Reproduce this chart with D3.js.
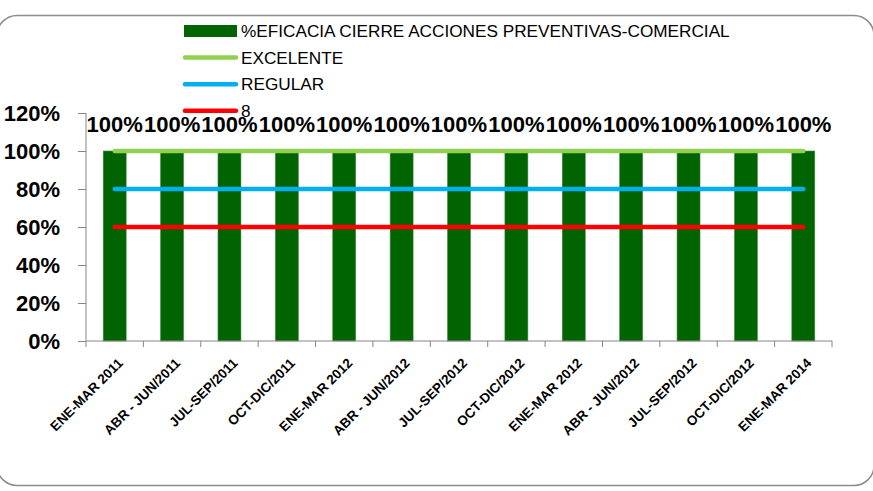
<!DOCTYPE html>
<html>
<head>
<meta charset="utf-8">
<title>%EFICACIA CIERRE ACCIONES PREVENTIVAS-COMERCIAL</title>
<script src="https://cdn.jsdelivr.net/npm/d3@7"></script>
<style>
body, html { margin: 0; padding: 0; background: #fff; }
svg { display: block; font-family: "Liberation Sans", Arial, sans-serif; }
.axis path, .axis line { stroke: #868686; }
</style>
</head>
<body>
<script>
// periods on the x axis
var periods = ['ENE-MAR 2011', 'ABR - JUN/2011', 'JUL-SEP/2011', 'OCT-DIC/2011',
  'ENE-MAR 2012', 'ABR - JUN/2012', 'JUL-SEP/2012', 'OCT-DIC/2012',
  'ENE-MAR 2012', 'ABR - JUN/2012', 'JUL-SEP/2012', 'OCT-DIC/2012', 'ENE-MAR 2014'];
var eficacia = [1, 1, 1, 1, 1, 1, 1, 1, 1, 1, 1, 1, 1];
var excelente = [1, 1, 1, 1, 1, 1, 1, 1, 1, 1, 1, 1, 1];
var regular = [0.8, 0.8, 0.8, 0.8, 0.8, 0.8, 0.8, 0.8, 0.8, 0.8, 0.8, 0.8, 0.8];
var malo = [0.6, 0.6, 0.6, 0.6, 0.6, 0.6, 0.6, 0.6, 0.6, 0.6, 0.6, 0.6, 0.6];
var yTicks = [0, 0.2, 0.4, 0.6, 0.8, 1, 1.2];
var seriesNames = ['%EFICACIA CIERRE ACCIONES PREVENTIVAS-COMERCIAL', 'EXCELENTE', 'REGULAR', '8'];

var width = 873, height = 491;
var margin = {left: 86, right: 40, top: 113, bottom: 150};

var svg = d3.select('body').append('svg')
  .attr('width', width)
  .attr('height', height);

// rounded chart border
svg.append('rect')
  .attr('x', -3).attr('y', 15.5)
  .attr('width', 877).attr('height', 470)
  .attr('rx', 20).attr('ry', 20)
  .attr('fill', 'none')
  .attr('stroke', '#8c8c8c')
  .attr('stroke-width', 1.5);

var x = d3.scaleBand()
  .domain(d3.range(periods.length))
  .range([margin.left, width - margin.right - 1])
  .paddingInner(0.6).paddingOuter(0.3);

var xOuter = d3.scaleBand()
  .domain(d3.range(periods.length))
  .range([margin.left, width - margin.right - 1]);

var y = d3.scaleLinear()
  .domain([0, 1.2])
  .range([height - margin.bottom, margin.top]);

// y axis
var yAxis = svg.append('g')
  .attr('class', 'axis')
  .attr('transform', 'translate(' + margin.left + ',0)')
  .call(d3.axisLeft(y).tickValues(yTicks).tickSize(8).tickFormat(d3.format('.0%')));
yAxis.select('.domain').attr('d', 'M-0,' + y(1.2) + 'V' + y(0));
yAxis.selectAll('text')
  .attr('x', -26)
  .attr('dy', '0.36em')
  .style('font-size', '22px')
  .style('font-weight', 'bold')
  .attr('fill', '#000');

// bars
svg.append('g').selectAll('rect')
  .data(eficacia)
  .join('rect')
  .attr('x', function(d, i) { return x(i); })
  .attr('y', function(d) { return y(d); })
  .attr('width', x.bandwidth())
  .attr('height', function(d) { return y(0) - y(d); })
  .attr('fill', '#006400')
  .attr('stroke', '#3f8a3f')
  .attr('stroke-width', 0.6);

// x axis
var xAxis = svg.append('g')
  .attr('class', 'axis')
  .attr('transform', 'translate(0,' + y(0) + ')');
xAxis.append('line')
  .attr('x1', margin.left).attr('x2', width - margin.right - 1)
  .attr('stroke', '#868686');
xAxis.selectAll('line.tick')
  .data(d3.range(periods.length + 1))
  .join('line')
  .attr('class', 'tick')
  .attr('x1', function(i) { return margin.left + i * xOuter.step(); })
  .attr('x2', function(i) { return margin.left + i * xOuter.step(); })
  .attr('y1', 0).attr('y2', 6)
  .attr('stroke', '#868686');
xAxis.selectAll('text')
  .data(periods)
  .join('text')
  .attr('transform', function(d, i) {
    return 'translate(' + (xOuter(i) + xOuter.bandwidth() / 2 + 9) + ',23) rotate(-45)';
  })
  .attr('text-anchor', 'end')
  .style('font-size', '13.5px')
  .style('font-weight', 'bold')
  .attr('fill', '#000')
  .text(function(d) { return d; });

// reference lines
var line = d3.line()
  .x(function(d, i) { return x(i) + x.bandwidth() / 2; })
  .y(function(d) { return y(d); });

var lineSeries = [
  {values: excelente, color: '#92d050'},
  {values: regular, color: '#00b0f0'},
  {values: malo, color: '#ff0000'}
];
svg.append('g').selectAll('path')
  .data(lineSeries)
  .join('path')
  .attr('d', function(s) { return line(s.values); })
  .attr('fill', 'none')
  .attr('stroke', function(s) { return s.color; })
  .attr('stroke-width', 4.5)
  .attr('stroke-linecap', 'round');

// legend
var legend = svg.append('g').attr('transform', 'translate(184,31)');
var rowH = 26.6;
legend.append('rect')
  .attr('x', 0).attr('y', -6)
  .attr('width', 53).attr('height', 12)
  .attr('fill', '#006400');
legend.selectAll('line')
  .data(lineSeries)
  .join('line')
  .attr('x1', 1).attr('x2', 52)
  .attr('y1', function(d, i) { return (i + 1) * rowH; })
  .attr('y2', function(d, i) { return (i + 1) * rowH; })
  .attr('stroke', function(d) { return d.color; })
  .attr('stroke-width', 4.5)
  .attr('stroke-linecap', 'round');
legend.selectAll('text')
  .data(seriesNames)
  .join('text')
  .attr('x', 57)
  .attr('y', function(d, i) { return i * rowH; })
  .attr('dy', '0.36em')
  .style('font-size', '17.2px')
  .attr('fill', '#000')
  .text(function(d) { return d; });

// data labels
svg.append('g').selectAll('text')
  .data(eficacia)
  .join('text')
  .attr('x', function(d, i) { return x(i) + x.bandwidth() / 2; })
  .attr('y', function(d) { return y(d) - 19; })
  .attr('text-anchor', 'middle')
  .style('font-size', '22px')
  .style('font-weight', 'bold')
  .attr('fill', '#000')
  .text(function(d) { return d3.format('.0%')(d); });
</script>
</body>
</html>
